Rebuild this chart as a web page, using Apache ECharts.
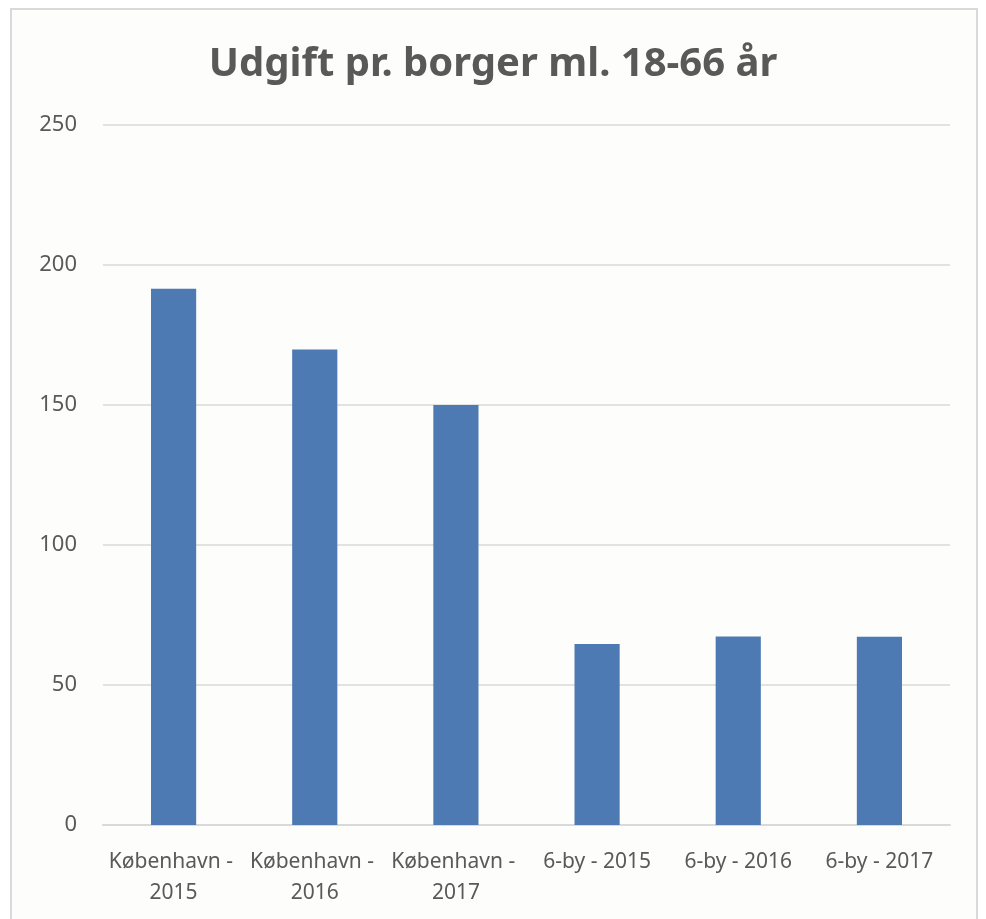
<!DOCTYPE html>
<html>
<head>
<meta charset="utf-8">
<script src="https://cdn.jsdelivr.net/npm/echarts@6/dist/echarts.min.js"></script>
<style>
  html, body { margin: 0; padding: 0; background: #ffffff; }
  #frame { position: absolute; left: 10px; top: 8px; width: 968px; height: 920px;
           border: 2px solid #d9d9d9; box-sizing: border-box; background: #fdfdfb; }
  #chart { position: absolute; left: 0; top: 0; width: 986px; height: 919px; }
</style>
</head>
<body>
<div id="frame"></div>
<div id="chart"></div>
<script>
// data
var categories = ['København - 2015', 'København - 2016', 'København - 2017',
                  '6-by - 2015', '6-by - 2016', '6-by - 2017'];
var values = [191.5, 169.8, 150, 64.6, 67.3, 67.2];
var yTicks = [0, 50, 100, 150, 200, 250];

var chart = echarts.init(document.getElementById('chart'), null, { renderer: 'canvas' });

var font = 'Noto Sans, sans-serif';

var option = {
  animation: false,
  title: {
    text: 'Udgift pr. borger ml. 18-66 år',
    left: 'center',
    top: 40,
    textStyle: {
      color: '#595959',
      fontSize: 40,
      fontWeight: 'bold',
      fontFamily: font
    }
  },
  grid: {
    left: 103,
    right: 36,
    top: 125,
    bottom: 94
  },
  xAxis: {
    type: 'category',
    data: categories,
    axisTick: { show: false },
    axisLine: { lineStyle: { color: '#d9d9d9', width: 2 } },
    axisLabel: {
      interval: 0,
      color: '#595959',
      fontSize: 21,
      fontFamily: font,
      margin: 22,
      lineHeight: 31,
      width: 138,
      overflow: 'break'
    }
  },
  yAxis: {
    type: 'value',
    min: yTicks[0],
    max: yTicks[yTicks.length - 1],
    interval: 50,
    axisLine: { show: false },
    axisTick: { show: false },
    splitLine: { lineStyle: { color: '#d9d9d9', width: 1.5 } },
    axisLabel: {
      color: '#595959',
      fontSize: 22,
      fontFamily: font,
      margin: 26
    }
  },
  series: [{
    type: 'bar',
    data: values,
    barWidth: '32%',
    itemStyle: { color: '#4e7ab3' }
  }]
};

chart.setOption(option);
</script>
</body>
</html>
